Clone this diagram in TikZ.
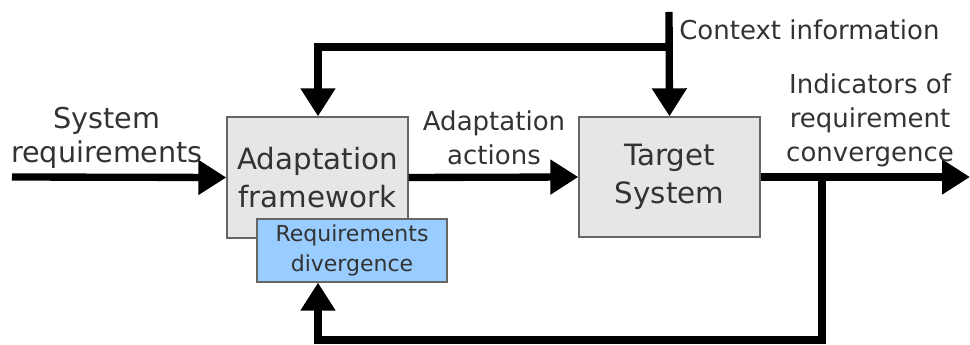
\documentclass[tikz,border=0pt]{standalone}
\usepackage{fontspec}
\setmainfont{DejaVu Sans}
\usepackage{tikz}
\usetikzlibrary{calc, arrows.meta}
\definecolor{txtgray}{HTML}{333333}
\definecolor{boxgray}{HTML}{E6E6E6}
\definecolor{boxblue}{HTML}{99CCFF}
\definecolor{edgegray}{HTML}{666666}
\newcommand{\lblfont}{\fontsize{19.5}{25.5}\selectfont}
\newcommand{\blkfont}{\fontsize{22}{28.5}\selectfont}
\newcommand{\smlfont}{\fontsize{16.5}{22.5}\selectfont}

\begin{document}
\begin{tikzpicture}[x=0.75pt, y=0.75pt,
    blk/.style={draw=edgegray, fill=boxgray, line width=1pt, text=txtgray,
      align=center, inner sep=0pt, font=\blkfont},
    lbl/.style={text=txtgray, align=center, inner sep=0pt, font=\lblfont},
    flow/.style={line width=5.5pt, -{Triangle[length=21pt,width=25pt]}}]
    \useasboundingbox (0,0) rectangle (970,345);
    \node[blk, minimum width=135.75pt, minimum height=90.75pt] (fw) at (317.5,167.5)
      {Adaptation\\framework};
    \node[blk, minimum width=135.75pt, minimum height=90pt] (ts) at (669.5,168)
      {Target\\System};
    \node[blk, fill=boxblue, minimum width=142.5pt, minimum height=47.25pt,
      font=\smlfont] (rd) at (352,94.5) {Requirements\\divergence};
    \coordinate (in) at (12,168);
    \coordinate (out) at (970,168);
    \coordinate (ctx) at (669,333);
    \coordinate (br) at (669,298);
    \coordinate (tl) at (318,298);
    \coordinate (fb) at (822,168);
    \coordinate (bot) at (822,5);
    \coordinate (bl) at (318,5);
    % horizontal flow
    \draw[flow] (in) -- (fw.west);
    \draw[flow] (fw.east) -- (ts.west);
    \draw[flow] (ts.east) -- (out);
    % context information
    \draw[flow] (ctx) -- (ts.north);
    \draw[flow] (br) -- (tl) -- (tl |- fw.north);
    % feedback loop
    \draw[flow] (fb) -- (bot) -- (bl) -- (bl |- rd.south);
    % labels
    \node[lbl, font=\fontsize{21.5}{25.5}\selectfont] (lsr) at (107,207) {System\\requirements};
    \node[lbl] (laa) at (494,207) {Adaptation\\actions};
    \node[lbl, anchor=west] (lci) at (679,315) {Context information};
    \node[lbl] (lic) at (870,225) {Indicators of\\requirement\\convergence};
\end{tikzpicture}
\end{document}
